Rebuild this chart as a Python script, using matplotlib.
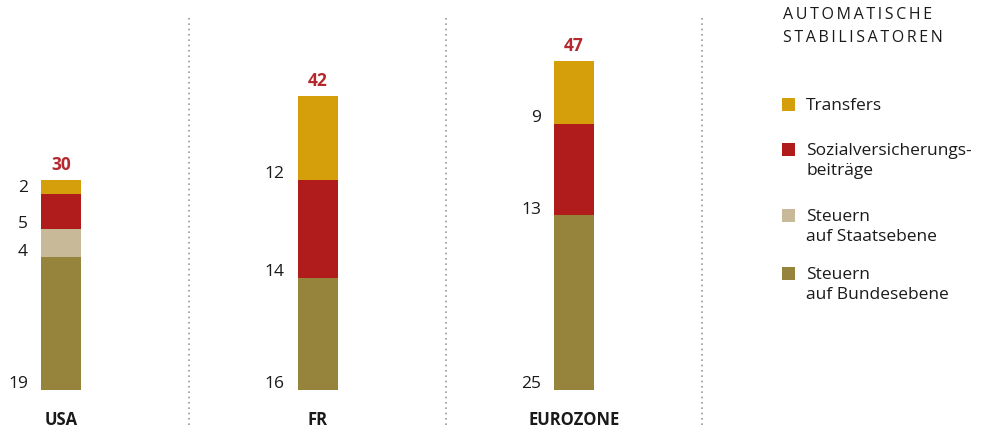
import matplotlib
matplotlib.use("Agg")
import matplotlib.pyplot as plt
from matplotlib.patches import Rectangle

plt.rcParams["font.family"] = ["Open Sans", "DejaVu Sans"]

# Automatic stabilisers by component (percent)
countries = ["USA", "FR", "EUROZONE"]
bund = [19, 16, 25]      # Steuern auf Bundesebene
staat = [4, 0, 0]        # Steuern auf Staatsebene
sozial = [5, 14, 13]     # Sozialversicherungsbeiträge
transfers = [2, 12, 9]   # Transfers
totals = [30, 42, 47]

components = [
    ("Steuern\nauf Bundesebene", bund, "#96843c"),
    ("Steuern\nauf Staatsebene", staat, "#c8ba98"),
    ("Sozialversicherungs-\nbeiträge", sozial, "#b01b1c"),
    ("Transfers", transfers, "#d49f0a"),
]

W, H = 982, 430
fig = plt.figure(figsize=(W / 100, H / 100), dpi=100)
ax = fig.add_axes([0, 0, 1, 1])
px_x = 256.5   # pixels per category step
px_y = 7.0     # pixels per percentage point
x0, y0 = 61, 40
ax.set_xlim(-x0 / px_x, (W - x0) / px_x)
ax.set_ylim(-y0 / px_y, (H - y0) / px_y)
ax.axis("off")

txt = "#1a1a1a"
xs = list(range(len(countries)))
bw = 40 / px_x
bottoms = [0] * len(countries)
for name, vals, col in components:
    ax.bar(xs, vals, bw, bottom=bottoms, color=col, linewidth=0)
    for i, v in enumerate(vals):
        if v:
            ax.text(i - bw / 2 - 13 / px_x, bottoms[i] + 1.5 / px_y, str(v),
                    ha="right", va="baseline", fontsize=12.5, color=txt)
    bottoms = [b + v for b, v in zip(bottoms, vals)]

for i, t in enumerate(totals):
    ax.text(i, t + 10 / px_y, str(t), ha="center", va="baseline", fontsize=12.5,
            fontweight="bold", color="#b5282e")
    ax.text(i, -30 / px_y, countries[i], ha="center", va="center", fontsize=12,
            fontweight="bold", color=txt)

# dotted separators between the columns
for i in range(3):
    ax.plot([i + 0.5, i + 0.5], [-35 / px_y, 375 / px_y], color="#999999",
            lw=1.2, ls=(0, (1, 2.2)))

# legend
title = ["AUTOMATISCHE", "STABILISATOREN"]
for j, line in enumerate(title):
    fig.text(783 / W, 1 - (15 + 23 * j) / H, "\u2009".join(line), ha="left",
             va="center", fontsize=11.5, color=txt)

legend_rows = [
    ("Transfers", "#d49f0a", 105),
    ("Sozialversicherungs-\nbeiträge", "#b01b1c", 150),
    ("Steuern\nauf Staatsebene", "#c8ba98", 216),
    ("Steuern\nauf Bundesebene", "#96843c", 274),
]
for label, col, yc in legend_rows:
    fig.patches.append(Rectangle((782 / W, 1 - (yc + 6) / H), 13 / W, 13 / H,
                                 transform=fig.transFigure, color=col, lw=0))
    fig.text(806 / W, 1 - (yc - 7) / H, label, ha="left", va="top",
             fontsize=12.5, color=txt, linespacing=1.36)

fig.savefig("out.png", dpi=100)
